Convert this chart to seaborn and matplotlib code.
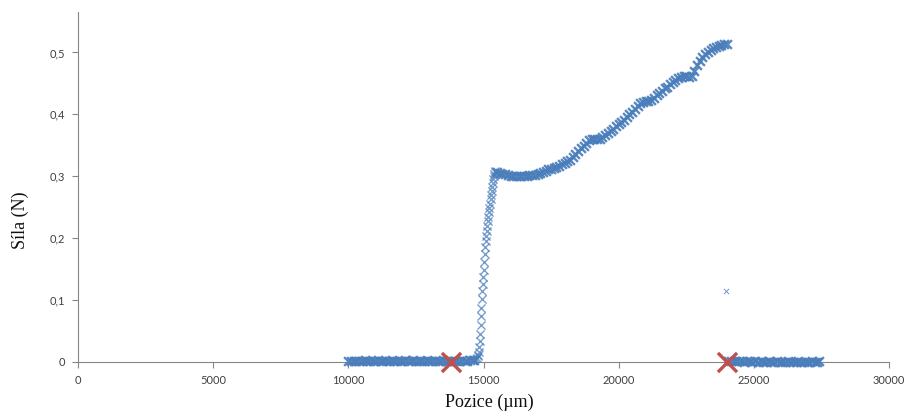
import matplotlib
matplotlib.use("Agg")
import matplotlib.pyplot as plt
import seaborn as sns
import pandas as pd
from matplotlib.ticker import FuncFormatter

# ---- data ----
flat_left_x = [10000, 10100, 10200, 10300, 10400, 10500, 10600, 10700, 10800, 10900,
               11000, 11100, 11200, 11300, 11400, 11500, 11600, 11700, 11800, 11900,
               12000, 12100, 12200, 12300, 12400, 12500, 12600, 12700, 12800, 12900,
               13000, 13100, 13200, 13300, 13400, 13500, 13600, 13700, 13800, 13900,
               14000, 14100, 14200, 14300, 14400, 14500, 14600, 14650]
flat_left_y = [0.002, 0.001, 0.002, 0.002, 0.001, 0.002, 0.003, 0.002, 0.001, 0.002,
               0.002, 0.003, 0.002, 0.001, 0.002, 0.002, 0.003, 0.002, 0.002, 0.001,
               0.002, 0.003, 0.002, 0.002, 0.003, 0.002, 0.001, 0.002, 0.002, 0.003,
               0.002, 0.002, 0.001, 0.002, 0.002, 0.003, 0.002, 0.002, 0.001, 0.002,
               0.002, 0.002, 0.003, 0.002, 0.002, 0.003, 0.003, 0.004]

rise_x = [14700, 14730, 14760, 14790, 14810, 14830, 14850, 14865, 14880, 14895,
          14910, 14925, 14940, 14955, 14970, 14985, 15000, 15020, 15040, 15060,
          15080, 15100, 15120, 15140, 15160, 15180, 15200, 15220, 15240, 15260,
          15280, 15300, 15320, 15340, 15360, 15380, 15400, 15420, 15440]
rise_y = [0.004, 0.005, 0.007, 0.009, 0.012, 0.016, 0.024, 0.034, 0.046, 0.060,
          0.074, 0.088, 0.101, 0.114, 0.126, 0.138, 0.149, 0.162, 0.174, 0.185,
          0.195, 0.204, 0.212, 0.220, 0.227, 0.234, 0.242, 0.249, 0.256, 0.263,
          0.270, 0.277, 0.283, 0.289, 0.295, 0.300, 0.304, 0.307, 0.309]

curve_x = [15500, 15600, 15700, 15800, 15900, 16000, 16100, 16200, 16300, 16400,
           16500, 16600, 16700, 16800, 16900, 17000, 17100, 17200, 17300, 17400,
           17500, 17600, 17700, 17800, 17900, 18000, 18100, 18200, 18300, 18400,
           18500, 18600, 18700, 18800, 18900, 19000, 19100, 19200, 19300, 19400,
           19500, 19600, 19700, 19800, 19900, 20000, 20100, 20200, 20300, 20400,
           20500, 20600, 20700, 20800, 20900, 21000, 21100, 21200, 21300, 21400,
           21500, 21600, 21700, 21800, 21900, 22000, 22100, 22200, 22300, 22400,
           22500, 22600, 22700, 22800, 22900, 23000, 23100, 23200, 23300, 23400,
           23500, 23600, 23700, 23800, 23900, 24000]
curve_y = [0.307, 0.305, 0.304, 0.303, 0.302, 0.301, 0.300, 0.300, 0.300, 0.300,
           0.301, 0.301, 0.302, 0.302, 0.302, 0.303, 0.305, 0.307, 0.309, 0.311,
           0.312, 0.313, 0.315, 0.317, 0.320, 0.322, 0.324, 0.327, 0.331, 0.336,
           0.341, 0.345, 0.349, 0.354, 0.358, 0.360, 0.361, 0.361, 0.361, 0.364,
           0.367, 0.370, 0.373, 0.377, 0.381, 0.385, 0.388, 0.391, 0.395, 0.400,
           0.404, 0.409, 0.414, 0.418, 0.420, 0.421, 0.422, 0.424, 0.427, 0.431,
           0.434, 0.438, 0.442, 0.445, 0.449, 0.452, 0.456, 0.459, 0.461, 0.462,
           0.462, 0.461, 0.462, 0.470, 0.480, 0.487, 0.492, 0.497, 0.501, 0.504,
           0.507, 0.509, 0.511, 0.512, 0.513, 0.513]

outlier_x = [23970]
outlier_y = [0.115]

flat_right_x = [24050, 24150, 24250, 24350, 24450, 24550, 24650, 24750, 24850, 24950,
                25050, 25150, 25250, 25350, 25450, 25550, 25650, 25750, 25850, 25950,
                26050, 26150, 26250, 26350, 26450, 26550, 26650, 26750, 26850, 26950,
                27050, 27150, 27250, 27350, 27420]
flat_right_y = [0.002, 0.001, 0.001, 0.002, 0.001, 0.001, 0.000, 0.001, 0.001, 0.000,
                0.001, 0.000, 0.001, 0.000, 0.000, 0.001, 0.000, 0.000, 0.001, 0.000,
                0.000, 0.000, 0.001, 0.000, 0.000, 0.000, 0.001, 0.000, 0.000, 0.000,
                0.000, 0.001, 0.000, 0.000, 0.001]

mark_x = [13780, 23990]
mark_y = [0.0, 0.0]

yticks = [0, 0.1, 0.2, 0.3, 0.4, 0.5]
xticks = [0, 5000, 10000, 15000, 20000, 25000, 30000]

# ---- build frames ----
band = pd.DataFrame({
    "x": flat_left_x + curve_x + flat_right_x,
    "y": flat_left_y + curve_y + flat_right_y,
})
rise = pd.DataFrame({"x": rise_x, "y": rise_y})
single = pd.DataFrame({"x": outlier_x, "y": outlier_y})
marks = pd.DataFrame({"x": mark_x, "y": mark_y})

sns.set_style("white")
plt.rcParams["font.family"] = ["Lato", "DejaVu Sans"]

fig = plt.figure(figsize=(9.06, 4.12), dpi=100)
ax = fig.add_axes([78/906, 50/412, (889-78)/906, (362-12)/412])

blue = "#4A7EBB"
red = "#C0504D"
sns.scatterplot(data=band, x="x", y="y", ax=ax, marker="x", s=40,
                color=blue, linewidth=1.7, alpha=0.92, legend=False, zorder=3,
                clip_on=False)
sns.scatterplot(data=rise, x="x", y="y", ax=ax, marker="x", s=34,
                color=blue, linewidth=1.0, alpha=0.75, legend=False, zorder=3)
sns.scatterplot(data=single, x="x", y="y", ax=ax, marker="x", s=14,
                color=blue, linewidth=0.7, alpha=0.8, legend=False, zorder=3)
sns.scatterplot(data=marks, x="x", y="y", ax=ax, marker="x", s=190,
                color=red, linewidth=2.4, legend=False, zorder=4, clip_on=False)

ax.set_xlim(0, 30000)
ax.set_ylim(0, 0.5654)
ax.set_xticks(xticks)
ax.set_yticks(yticks)
ax.xaxis.set_major_formatter(FuncFormatter(lambda v, p: f"{int(v)}"))
ax.yaxis.set_major_formatter(FuncFormatter(
    lambda v, p: "0" if abs(v) < 1e-9 else f"{v:.1f}".replace(".", ",")))

for s in ["top", "right"]:
    ax.spines[s].set_visible(False)
for s in ["left", "bottom"]:
    ax.spines[s].set_color("#868686")
    ax.spines[s].set_linewidth(0.8)
ax.tick_params(axis="both", which="major", direction="out", length=4,
               width=0.8, color="#868686", labelsize=8, labelcolor="#404040",
               left=True, bottom=True, pad=5)

ax.set_xlabel("Pozice (µm)", family=["Liberation Serif", "DejaVu Serif"],
              fontsize=13, color="#111111")
ax.set_ylabel("Síla (N)", family=["Liberation Serif", "DejaVu Serif"],
              fontsize=13, color="#111111")
ax.xaxis.set_label_coords(0.5075, -0.09)
ax.yaxis.set_label_coords(-0.060, 0.405)

fig.savefig("out.png", dpi=100)
